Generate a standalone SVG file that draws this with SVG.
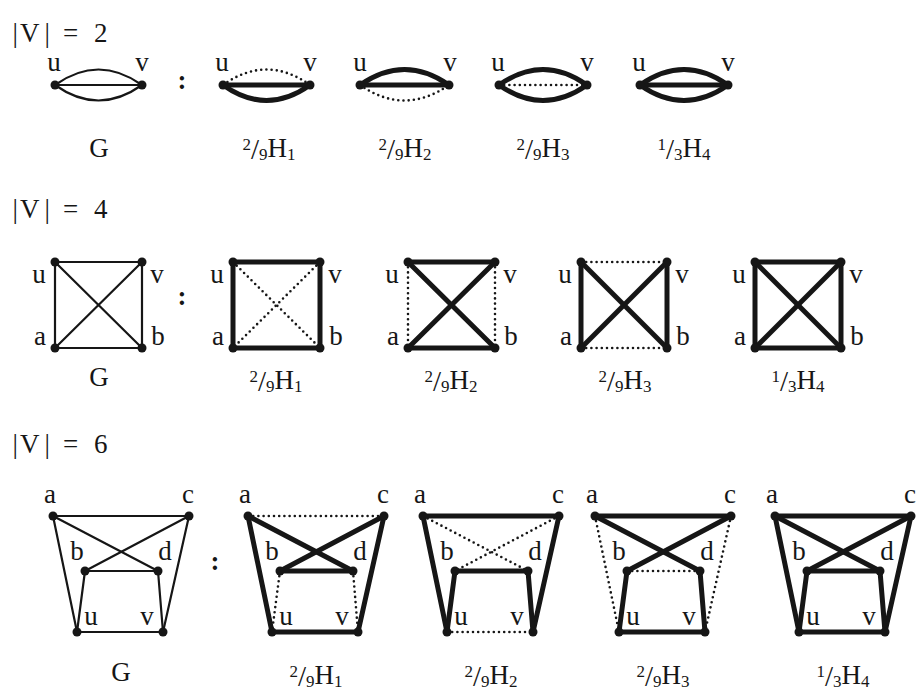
<svg xmlns="http://www.w3.org/2000/svg" width="920" height="698" viewBox="0 0 920 698">
<style>
text{font-family:"Liberation Serif","DejaVu Serif",serif;fill:#161616}
.hd{font-size:27px}
.lb{font-size:27px;text-anchor:middle}
.fr{font-size:27px;text-anchor:middle}
.sm{font-size:17px}
.sl{font-size:29px}
.col{font-size:27px;text-anchor:middle;font-weight:bold}
.thin{stroke:#161616;stroke-width:2.2;fill:none;stroke-linecap:round}
.thick{stroke:#161616;stroke-width:5;fill:none;stroke-linecap:round}
.dot{stroke:#161616;stroke-width:2.6;fill:none;stroke-dasharray:0 5.2;stroke-linecap:round}
circle{fill:#161616}
</style>
<rect width="920" height="698" fill="#fff"/>

<!-- headings -->
<text class="hd" y="42"><tspan x="12.5">|</tspan><tspan x="20">V</tspan><tspan x="44.5">|</tspan><tspan x="63">=</tspan><tspan x="94">2</tspan></text>
<text class="hd" y="218"><tspan x="12.5">|</tspan><tspan x="20">V</tspan><tspan x="44.5">|</tspan><tspan x="63">=</tspan><tspan x="94">4</tspan></text>
<text class="hd" y="453"><tspan x="12.5">|</tspan><tspan x="20">V</tspan><tspan x="44.5">|</tspan><tspan x="63">=</tspan><tspan x="94">6</tspan></text>

<!-- colons -->
<text class="col" x="182" y="89">:</text>
<text class="col" x="182" y="305">:</text>
<text class="col" x="215" y="570">:</text>

<!-- ===== |V| = 2 ===== -->
<g id="v2-G">
  <g class="edges">
    <path class="thin" d="M55 85 Q98.5 54 142 85"/>
    <path class="thin" d="M55 85 L142 85"/>
    <path class="thin" d="M55 85 Q98.5 116 142 85"/>
  </g>
  <g id="v2-G-u"><circle cx="55" cy="85" r="4.5"/><text class="lb" x="54" y="71">u</text></g>
  <g id="v2-G-v"><circle cx="142" cy="85" r="4.5"/><text class="lb" x="142" y="71">v</text></g>
  <text class="fr" x="99" y="157">G</text>
</g>
<g id="v2-H1">
  <g class="edges">
    <path class="dot" d="M223 85 Q266.5 54 310 85"/>
    <path class="thick" d="M223 85 L310 85"/>
    <path class="thick" d="M223 85 Q266.5 116 310 85"/>
  </g>
  <g id="v2-H1-u"><circle cx="223" cy="85" r="4.5"/><text class="lb" x="222" y="71">u</text></g>
  <g id="v2-H1-v"><circle cx="310" cy="85" r="4.5"/><text class="lb" x="310" y="71">v</text></g>
  <text class="fr" x="269" y="157"><tspan class="sm" dy="-7">2</tspan><tspan class="sl" dy="9">/</tspan><tspan class="sm" dy="1">9</tspan><tspan dy="-3">H</tspan><tspan class="sm" dy="3">1</tspan></text>
</g>
<g id="v2-H2">
  <g class="edges">
    <path class="thick" d="M360 85 Q404.5 54 449 85"/>
    <path class="thick" d="M360 85 L449 85"/>
    <path class="dot" d="M360 85 Q404.5 116 449 85"/>
  </g>
  <g id="v2-H2-u"><circle cx="360" cy="85" r="4.5"/><text class="lb" x="360" y="71">u</text></g>
  <g id="v2-H2-v"><circle cx="449" cy="85" r="4.5"/><text class="lb" x="450" y="71">v</text></g>
  <text class="fr" x="405" y="157"><tspan class="sm" dy="-7">2</tspan><tspan class="sl" dy="9">/</tspan><tspan class="sm" dy="1">9</tspan><tspan dy="-3">H</tspan><tspan class="sm" dy="3">2</tspan></text>
</g>
<g id="v2-H3">
  <g class="edges">
    <path class="thick" d="M499 85 Q543 54 587 85"/>
    <path class="dot" d="M499 85 L587 85"/>
    <path class="thick" d="M499 85 Q543 116 587 85"/>
  </g>
  <g id="v2-H3-u"><circle cx="499" cy="85" r="4.5"/><text class="lb" x="498" y="71">u</text></g>
  <g id="v2-H3-v"><circle cx="587" cy="85" r="4.5"/><text class="lb" x="587" y="71">v</text></g>
  <text class="fr" x="543" y="157"><tspan class="sm" dy="-7">2</tspan><tspan class="sl" dy="9">/</tspan><tspan class="sm" dy="1">9</tspan><tspan dy="-3">H</tspan><tspan class="sm" dy="3">3</tspan></text>
</g>
<g id="v2-H4">
  <g class="edges">
    <path class="thick" d="M640 85 Q684 54 728 85"/>
    <path class="thick" d="M640 85 L728 85"/>
    <path class="thick" d="M640 85 Q684 116 728 85"/>
  </g>
  <g id="v2-H4-u"><circle cx="640" cy="85" r="4.5"/><text class="lb" x="639" y="71">u</text></g>
  <g id="v2-H4-v"><circle cx="728" cy="85" r="4.5"/><text class="lb" x="728" y="71">v</text></g>
  <text class="fr" x="684" y="157"><tspan class="sm" dy="-7">1</tspan><tspan class="sl" dy="9">/</tspan><tspan class="sm" dy="1">3</tspan><tspan dy="-3">H</tspan><tspan class="sm" dy="3">4</tspan></text>
</g>

<!-- ===== |V| = 4 ===== -->
<g id="v4-G">
  <g class="edges">
    <path class="thin" d="M55 262 L142 262"/>
    <path class="thin" d="M55 348 L142 348"/>
    <path class="thin" d="M55 262 L55 348"/>
    <path class="thin" d="M142 262 L142 348"/>
    <path class="thin" d="M55 262 L142 348"/>
    <path class="thin" d="M142 262 L55 348"/>
  </g>
  <g id="v4-G-u"><circle cx="55" cy="262" r="4.5"/><text class="lb" x="39" y="283">u</text></g>
  <g id="v4-G-v"><circle cx="142" cy="262" r="4.5"/><text class="lb" x="157" y="283">v</text></g>
  <g id="v4-G-a"><circle cx="55" cy="348" r="4.5"/><text class="lb" x="40" y="345">a</text></g>
  <g id="v4-G-b"><circle cx="142" cy="348" r="4.5"/><text class="lb" x="158" y="345">b</text></g>
  <text class="fr" x="99" y="386">G</text>
</g>
<g id="v4-H1">
  <g class="edges">
    <path class="thick" d="M233 262 L320 262"/>
    <path class="thick" d="M233 348 L320 348"/>
    <path class="thick" d="M233 262 L233 348"/>
    <path class="thick" d="M320 262 L320 348"/>
    <path class="dot" d="M233 262 L320 348"/>
    <path class="dot" d="M320 262 L233 348"/>
  </g>
  <g id="v4-H1-u"><circle cx="233" cy="262" r="4.5"/><text class="lb" x="217" y="283">u</text></g>
  <g id="v4-H1-v"><circle cx="320" cy="262" r="4.5"/><text class="lb" x="335" y="283">v</text></g>
  <g id="v4-H1-a"><circle cx="233" cy="348" r="4.5"/><text class="lb" x="218" y="345">a</text></g>
  <g id="v4-H1-b"><circle cx="320" cy="348" r="4.5"/><text class="lb" x="336" y="345">b</text></g>
  <text class="fr" x="276" y="389"><tspan class="sm" dy="-7">2</tspan><tspan class="sl" dy="9">/</tspan><tspan class="sm" dy="1">9</tspan><tspan dy="-3">H</tspan><tspan class="sm" dy="3">1</tspan></text>
</g>
<g id="v4-H2">
  <g class="edges">
    <path class="thick" d="M408 262 L495 262"/>
    <path class="thick" d="M408 348 L495 348"/>
    <path class="dot" d="M408 262 L408 348"/>
    <path class="dot" d="M495 262 L495 348"/>
    <path class="thick" d="M408 262 L495 348"/>
    <path class="thick" d="M495 262 L408 348"/>
  </g>
  <g id="v4-H2-u"><circle cx="408" cy="262" r="4.5"/><text class="lb" x="392" y="283">u</text></g>
  <g id="v4-H2-v"><circle cx="495" cy="262" r="4.5"/><text class="lb" x="510" y="283">v</text></g>
  <g id="v4-H2-a"><circle cx="408" cy="348" r="4.5"/><text class="lb" x="393" y="345">a</text></g>
  <g id="v4-H2-b"><circle cx="495" cy="348" r="4.5"/><text class="lb" x="511" y="345">b</text></g>
  <text class="fr" x="451" y="389"><tspan class="sm" dy="-7">2</tspan><tspan class="sl" dy="9">/</tspan><tspan class="sm" dy="1">9</tspan><tspan dy="-3">H</tspan><tspan class="sm" dy="3">2</tspan></text>
</g>
<g id="v4-H3">
  <g class="edges">
    <path class="dot" d="M581 262 L667 262"/>
    <path class="dot" d="M581 348 L667 348"/>
    <path class="thick" d="M581 262 L581 348"/>
    <path class="thick" d="M667 262 L667 348"/>
    <path class="thick" d="M581 262 L667 348"/>
    <path class="thick" d="M667 262 L581 348"/>
  </g>
  <g id="v4-H3-u"><circle cx="581" cy="262" r="4.5"/><text class="lb" x="565" y="283">u</text></g>
  <g id="v4-H3-v"><circle cx="667" cy="262" r="4.5"/><text class="lb" x="682" y="283">v</text></g>
  <g id="v4-H3-a"><circle cx="581" cy="348" r="4.5"/><text class="lb" x="566" y="345">a</text></g>
  <g id="v4-H3-b"><circle cx="667" cy="348" r="4.5"/><text class="lb" x="683" y="345">b</text></g>
  <text class="fr" x="625" y="389"><tspan class="sm" dy="-7">2</tspan><tspan class="sl" dy="9">/</tspan><tspan class="sm" dy="1">9</tspan><tspan dy="-3">H</tspan><tspan class="sm" dy="3">3</tspan></text>
</g>
<g id="v4-H4">
  <g class="edges">
    <path class="thick" d="M755 262 L841 262"/>
    <path class="thick" d="M755 348 L841 348"/>
    <path class="thick" d="M755 262 L755 348"/>
    <path class="thick" d="M841 262 L841 348"/>
    <path class="thick" d="M755 262 L841 348"/>
    <path class="thick" d="M841 262 L755 348"/>
  </g>
  <g id="v4-H4-u"><circle cx="755" cy="262" r="4.5"/><text class="lb" x="739" y="283">u</text></g>
  <g id="v4-H4-v"><circle cx="841" cy="262" r="4.5"/><text class="lb" x="856" y="283">v</text></g>
  <g id="v4-H4-a"><circle cx="755" cy="348" r="4.5"/><text class="lb" x="740" y="345">a</text></g>
  <g id="v4-H4-b"><circle cx="841" cy="348" r="4.5"/><text class="lb" x="857" y="345">b</text></g>
  <text class="fr" x="798" y="389"><tspan class="sm" dy="-7">1</tspan><tspan class="sl" dy="9">/</tspan><tspan class="sm" dy="1">3</tspan><tspan dy="-3">H</tspan><tspan class="sm" dy="3">4</tspan></text>
</g>

<!-- ===== |V| = 6 ===== -->
<g id="v6-G">
  <g class="edges">
    <path class="thin" d="M53 516 L189 516"/>
    <path class="thin" d="M53 516 L158 571"/>
    <path class="thin" d="M189 516 L85 571"/>
    <path class="thin" d="M85 571 L158 571"/>
    <path class="thin" d="M53 516 L77 632"/>
    <path class="thin" d="M189 516 L163 632"/>
    <path class="thin" d="M85 571 L77 632"/>
    <path class="thin" d="M158 571 L163 632"/>
    <path class="thin" d="M77 632 L163 632"/>
  </g>
  <g id="v6-G-a"><circle cx="53" cy="516" r="4.5"/><text class="lb" x="50" y="503">a</text></g>
  <g id="v6-G-c"><circle cx="189" cy="516" r="4.5"/><text class="lb" x="188" y="503">c</text></g>
  <g id="v6-G-b"><circle cx="85" cy="571" r="4.5"/><text class="lb" x="77" y="560">b</text></g>
  <g id="v6-G-d"><circle cx="158" cy="571" r="4.5"/><text class="lb" x="165" y="560">d</text></g>
  <g id="v6-G-u"><circle cx="77" cy="632" r="4.5"/><text class="lb" x="91" y="625">u</text></g>
  <g id="v6-G-v"><circle cx="163" cy="632" r="4.5"/><text class="lb" x="147" y="625">v</text></g>
  <text class="fr" x="121" y="681">G</text>
</g>
<g id="v6-H1">
  <g class="edges">
    <path class="dot" d="M248 516 L384 516"/>
    <path class="thick" d="M248 516 L353 571"/>
    <path class="thick" d="M384 516 L280 571"/>
    <path class="thick" d="M280 571 L353 571"/>
    <path class="thick" d="M248 516 L272 632"/>
    <path class="thick" d="M384 516 L358 632"/>
    <path class="dot" d="M280 571 L272 632"/>
    <path class="dot" d="M353 571 L358 632"/>
    <path class="thick" d="M272 632 L358 632"/>
  </g>
  <g id="v6-H1-a"><circle cx="248" cy="516" r="4.5"/><text class="lb" x="245" y="503">a</text></g>
  <g id="v6-H1-c"><circle cx="384" cy="516" r="4.5"/><text class="lb" x="383" y="503">c</text></g>
  <g id="v6-H1-b"><circle cx="280" cy="571" r="4.5"/><text class="lb" x="272" y="560">b</text></g>
  <g id="v6-H1-d"><circle cx="353" cy="571" r="4.5"/><text class="lb" x="360" y="560">d</text></g>
  <g id="v6-H1-u"><circle cx="272" cy="632" r="4.5"/><text class="lb" x="286" y="625">u</text></g>
  <g id="v6-H1-v"><circle cx="358" cy="632" r="4.5"/><text class="lb" x="342" y="625">v</text></g>
  <text class="fr" x="316" y="684"><tspan class="sm" dy="-7">2</tspan><tspan class="sl" dy="9">/</tspan><tspan class="sm" dy="1">9</tspan><tspan dy="-3">H</tspan><tspan class="sm" dy="3">1</tspan></text>
</g>
<g id="v6-H2">
  <g class="edges">
    <path class="thick" d="M423 516 L559 516"/>
    <path class="dot" d="M423 516 L528 571"/>
    <path class="dot" d="M559 516 L455 571"/>
    <path class="thick" d="M455 571 L528 571"/>
    <path class="thick" d="M423 516 L447 632"/>
    <path class="thick" d="M559 516 L533 632"/>
    <path class="thick" d="M455 571 L447 632"/>
    <path class="thick" d="M528 571 L533 632"/>
    <path class="dot" d="M447 632 L533 632"/>
  </g>
  <g id="v6-H2-a"><circle cx="423" cy="516" r="4.5"/><text class="lb" x="420" y="503">a</text></g>
  <g id="v6-H2-c"><circle cx="559" cy="516" r="4.5"/><text class="lb" x="558" y="503">c</text></g>
  <g id="v6-H2-b"><circle cx="455" cy="571" r="4.5"/><text class="lb" x="447" y="560">b</text></g>
  <g id="v6-H2-d"><circle cx="528" cy="571" r="4.5"/><text class="lb" x="535" y="560">d</text></g>
  <g id="v6-H2-u"><circle cx="447" cy="632" r="4.5"/><text class="lb" x="461" y="625">u</text></g>
  <g id="v6-H2-v"><circle cx="533" cy="632" r="4.5"/><text class="lb" x="517" y="625">v</text></g>
  <text class="fr" x="491" y="684"><tspan class="sm" dy="-7">2</tspan><tspan class="sl" dy="9">/</tspan><tspan class="sm" dy="1">9</tspan><tspan dy="-3">H</tspan><tspan class="sm" dy="3">2</tspan></text>
</g>
<g id="v6-H3">
  <g class="edges">
    <path class="thick" d="M595 516 L731 516"/>
    <path class="thick" d="M595 516 L700 571"/>
    <path class="thick" d="M731 516 L627 571"/>
    <path class="dot" d="M627 571 L700 571"/>
    <path class="dot" d="M595 516 L619 632"/>
    <path class="dot" d="M731 516 L705 632"/>
    <path class="thick" d="M627 571 L619 632"/>
    <path class="thick" d="M700 571 L705 632"/>
    <path class="thick" d="M619 632 L705 632"/>
  </g>
  <g id="v6-H3-a"><circle cx="595" cy="516" r="4.5"/><text class="lb" x="592" y="503">a</text></g>
  <g id="v6-H3-c"><circle cx="731" cy="516" r="4.5"/><text class="lb" x="730" y="503">c</text></g>
  <g id="v6-H3-b"><circle cx="627" cy="571" r="4.5"/><text class="lb" x="619" y="560">b</text></g>
  <g id="v6-H3-d"><circle cx="700" cy="571" r="4.5"/><text class="lb" x="707" y="560">d</text></g>
  <g id="v6-H3-u"><circle cx="619" cy="632" r="4.5"/><text class="lb" x="633" y="625">u</text></g>
  <g id="v6-H3-v"><circle cx="705" cy="632" r="4.5"/><text class="lb" x="689" y="625">v</text></g>
  <text class="fr" x="663" y="684"><tspan class="sm" dy="-7">2</tspan><tspan class="sl" dy="9">/</tspan><tspan class="sm" dy="1">9</tspan><tspan dy="-3">H</tspan><tspan class="sm" dy="3">3</tspan></text>
</g>
<g id="v6-H4">
  <g class="edges">
    <path class="thick" d="M775 516 L911 516"/>
    <path class="thick" d="M775 516 L880 571"/>
    <path class="thick" d="M911 516 L807 571"/>
    <path class="thick" d="M807 571 L880 571"/>
    <path class="thick" d="M775 516 L799 632"/>
    <path class="thick" d="M911 516 L885 632"/>
    <path class="thick" d="M807 571 L799 632"/>
    <path class="thick" d="M880 571 L885 632"/>
    <path class="thick" d="M799 632 L885 632"/>
  </g>
  <g id="v6-H4-a"><circle cx="775" cy="516" r="4.5"/><text class="lb" x="772" y="503">a</text></g>
  <g id="v6-H4-c"><circle cx="911" cy="516" r="4.5"/><text class="lb" x="910" y="503">c</text></g>
  <g id="v6-H4-b"><circle cx="807" cy="571" r="4.5"/><text class="lb" x="799" y="560">b</text></g>
  <g id="v6-H4-d"><circle cx="880" cy="571" r="4.5"/><text class="lb" x="887" y="560">d</text></g>
  <g id="v6-H4-u"><circle cx="799" cy="632" r="4.5"/><text class="lb" x="813" y="625">u</text></g>
  <g id="v6-H4-v"><circle cx="885" cy="632" r="4.5"/><text class="lb" x="869" y="625">v</text></g>
  <text class="fr" x="843" y="684"><tspan class="sm" dy="-7">1</tspan><tspan class="sl" dy="9">/</tspan><tspan class="sm" dy="1">3</tspan><tspan dy="-3">H</tspan><tspan class="sm" dy="3">4</tspan></text>
</g>
</svg>
